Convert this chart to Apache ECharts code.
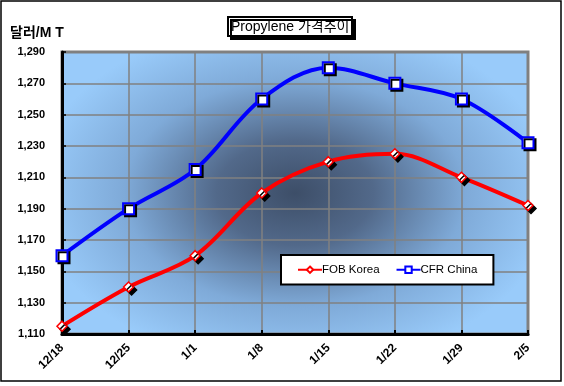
<!DOCTYPE html>
<html>
<head>
<meta charset="utf-8">
<script src="https://cdn.jsdelivr.net/npm/echarts@6/dist/echarts.min.js"></script>
<style>
html,body{margin:0;padding:0;background:#fff;}
#c{width:564px;height:386px;}
</style>
</head>
<body>
<div id="c"></div>
<script>
const categories = ['12/18','12/25','1/1','1/8','1/15','1/22','1/29','2/5'];
const fobKorea = [1115, 1140, 1160, 1200, 1220, 1225, 1210, 1192];
const cfrChina = [1160, 1190, 1215, 1260, 1280, 1270, 1260, 1232];
const yMin = 1110, yMax = 1290, yStep = 20;
const titleText = 'Propylene 가격추이';
const unitText = '달러/M T';
const seriesNames = ['FOB Korea', 'CFR China'];

const G = {left: 62, right: 36, top: 52, bottom: 52};
const W = 564, H = 386;
const pw = W - G.left - G.right, ph = H - G.top - G.bottom;
const sx = 1.5;
const font = 'Arial, "Liberation Sans", "Noto Sans CJK KR", sans-serif';

const chart = echarts.init(document.getElementById('c'), null, {renderer: 'canvas'});
chart.setOption({
  animation: false,
  backgroundColor: '#fff',
  textStyle: {fontFamily: font},
  title: [
    {text: titleText, left: 228, top: 17,
     padding: [3, 3, 2, 3],
     backgroundColor: '#fff', borderColor: '#000', borderWidth: 2,
     shadowColor: '#000', shadowOffsetX: 3, shadowOffsetY: 3, shadowBlur: 0,
     textStyle: {fontFamily: font, fontSize: 14, fontWeight: 'normal', color: '#000'}},
    {text: unitText, left: 10, top: 26, padding: 0,
     textStyle: {fontFamily: font, fontSize: 14, fontWeight: 'bold', color: '#000'}}
  ],
  graphic: [
    {type: 'rect', z: -10, silent: true,
     x: G.left + pw / 2, y: G.top + ph / 2, scaleX: sx,
     shape: {x: -pw / sx / 2, y: -ph / 2, width: pw / sx, height: ph},
     style: {fill: {type: 'radial', x: 0.5, y: 0.5, r: 0.62, colorStops: [
       {offset: 0, color: '#3d4e68'},
       {offset: 0.3, color: '#52698a'},
       {offset: 0.65, color: '#7faad8'},
       {offset: 1, color: '#99cbfa'}]}}},
    {type: 'rect', z: 100, silent: true,
     shape: {x: 1, y: 1, width: 560, height: 380},
     style: {fill: 'none', stroke: '#000', lineWidth: 1.5}}
  ],
  grid: {left: G.left, right: G.right, top: G.top, bottom: G.bottom,
         show: true, backgroundColor: 'transparent', borderColor: '#808080', borderWidth: 3},
  legend: {
    left: 281, top: 255, orient: 'horizontal',
    padding: [9, 16, 9, 16],
    backgroundColor: '#fff', borderColor: '#000', borderWidth: 2,
    itemWidth: 24, itemHeight: 8, itemGap: 16,
    textStyle: {fontFamily: font, fontSize: 11.5, color: '#000', padding: [0, 0, 0, -5]},
    data: seriesNames
  },
  xAxis: {
    type: 'category', data: categories, boundaryGap: false,
    axisLine: {lineStyle: {color: '#000', width: 3}},
    axisTick: {show: true, inside: true, length: 4, lineStyle: {color: '#000', width: 2}},
    axisLabel: {rotate: 45, fontSize: 12, fontWeight: 'bold', color: '#000', margin: 12, fontFamily: font},
    splitLine: {show: true, lineStyle: {color: '#808080', width: 1.5}}
  },
  yAxis: {
    type: 'value', min: yMin, max: yMax, interval: yStep,
    axisLine: {show: true, lineStyle: {color: '#000', width: 3}},
    axisTick: {show: true, inside: true, length: 4, lineStyle: {color: '#000', width: 1.5}},
    axisLabel: {fontSize: 11, fontWeight: 'bold', color: '#000', margin: 17, fontFamily: font,
      formatter: v => v.toLocaleString('en-US')},
    splitLine: {show: true, lineStyle: {color: '#808080', width: 1.5}}
  },
  series: [
    {name: seriesNames[0], type: 'line', data: fobKorea, smooth: 0.35,
     symbol: 'diamond', symbolSize: 10,
     lineStyle: {color: '#ff0000', width: 4},
     itemStyle: {color: '#ffffff', borderColor: '#ff0000', borderWidth: 1.5,
       shadowColor: '#000', shadowOffsetX: 3, shadowOffsetY: 3, shadowBlur: 0},
     z: 3},
    {name: seriesNames[1], type: 'line', data: cfrChina, smooth: 0.35,
     symbol: 'rect', symbolSize: 11,
     lineStyle: {color: '#0000ff', width: 4},
     itemStyle: {color: '#ffffff', borderColor: '#0000ff', borderWidth: 2,
       shadowColor: '#000', shadowOffsetX: 2, shadowOffsetY: 2, shadowBlur: 0},
     z: 4}
  ]
});
</script>
</body>
</html>
